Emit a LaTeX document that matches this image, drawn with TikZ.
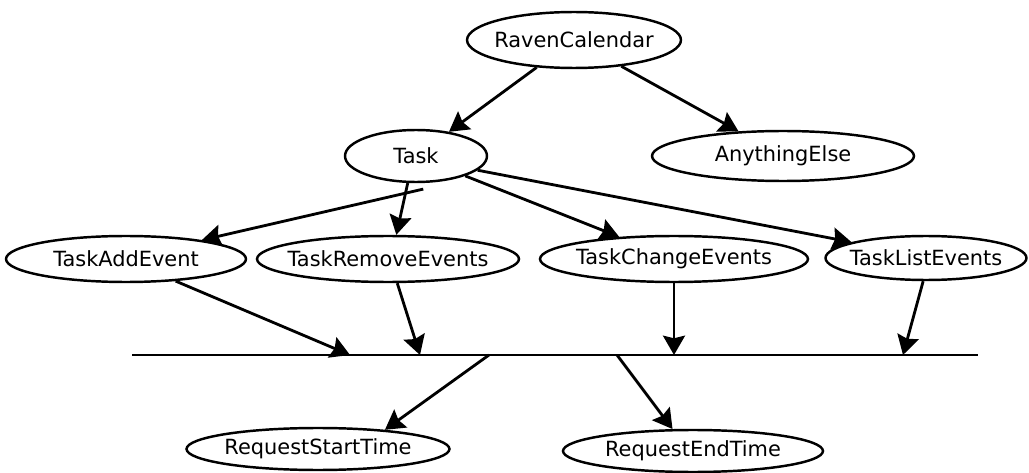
\documentclass[tikz,border=0pt]{standalone}
\usepackage{fontspec}
\setmainfont{DejaVu Sans}
\usepackage{tikz}
\usetikzlibrary{shapes.geometric, arrows.meta}

\begin{document}
\begin{tikzpicture}[
  x=0.02cm, y=-0.02cm,
  cls/.style={draw, ellipse, line width=1.4pt, inner xsep=-10pt, inner ysep=0pt, font=\fontsize{11.9}{14}\selectfont},
  arrow/.style={-{Stealth[length=11pt, width=12.5pt, inset=1.5pt]}, line width=1.6pt},
  bar/.style={line width=1.6pt}
]
  \useasboundingbox (0,0) rectangle (1029,473);

  % Top classes
  \node[cls, minimum width=4.28cm, minimum height=1.12cm] (raven) at (574,40) {RavenCalendar};
  \node[cls, minimum width=2.84cm, minimum height=1.04cm] (task) at (416,156) {Task};
  \node[cls, minimum width=5.24cm, minimum height=1.0cm] (anything) at (783,156) {AnythingElse};

  % Task events
  \node[cls, minimum width=4.8cm, minimum height=0.92cm] (addev) at (126,259) {TaskAddEvent};
  \node[cls, minimum width=5.24cm, minimum height=0.92cm] (removeev) at (388,259) {TaskRemoveEvents};
  \node[cls, minimum width=5.36cm, minimum height=0.92cm] (changeev) at (674,259) {TaskChangeEvents};
  \node[cls, minimum width=4.02cm, minimum height=0.88cm] (listev) at (926,258) {TaskListEvents};

  % Requests
  \node[cls, minimum width=5.26cm, minimum height=0.84cm] (startreq) at (318,449) {RequestStartTime};
  \node[cls, minimum width=5.2cm, minimum height=0.84cm] (endreq) at (693,451) {RequestEndTime};

  % Bar
  \coordinate (barL) at (132,355);
  \coordinate (barR) at (978,355);
  \coordinate (inAdd) at (350,355);
  \coordinate (inRemove) at (420,355);
  \coordinate (inChange) at (674,355);
  \coordinate (inList) at (903,355);
  \coordinate (outStart) at (489,355);
  \coordinate (outEnd) at (617,355);
  \draw[bar] (barL) -- (barR);

  % Arrows
  \draw[arrow] (raven) -- (task);
  \draw[arrow] (raven) -- (anything);
  \draw[arrow] ([yshift=-0.12cm]task.-75) -- (addev.14);
  \draw[arrow] (task.-107) -- (removeev.71);
  \draw[arrow] (task.-22) -- (changeev.158);
  \draw[arrow] (task.-13) -- (listev.168);
  \draw[arrow] (addev.-24) -- (inAdd);
  \draw[arrow] (removeev.-69) -- (inRemove);
  \draw[arrow] (changeev.south) -- (inChange);
  \draw[arrow] (listev.-97) -- (inList);
  \draw[arrow] (outStart) -- (startreq.16);
  \draw[arrow] (outEnd) -- (endreq.133);

\end{tikzpicture}
\end{document}
